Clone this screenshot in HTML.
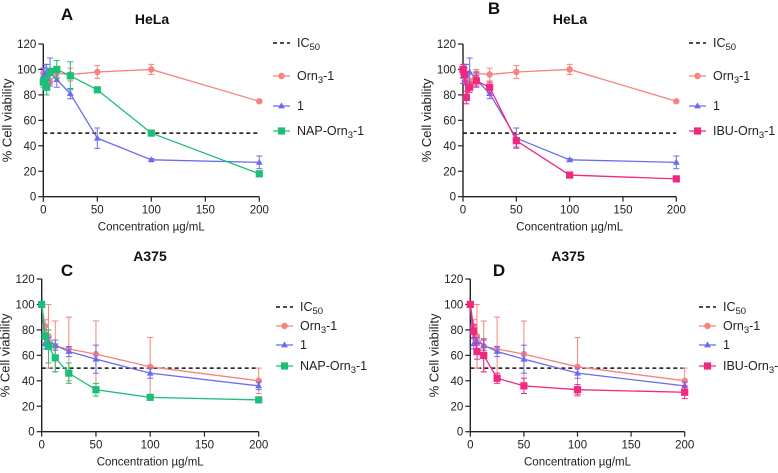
<!DOCTYPE html>
<html><head><meta charset="utf-8"><style>
body{margin:0;background:#fff;}
svg{display:block;font-family:"Liberation Sans",Arial,sans-serif;}
</style></head><body>
<svg id="fig" width="778" height="473" viewBox="0 0 778 473"></svg>
<script>
const concsHeLa=[0,1.56,3.125,6.25,12.5,25,50,100,200];
const concsA375=[0,3.125,6.25,12.5,25,50,100,200];
const ornHeLa=[97,95,92,90,97,96,98,100,75];
const ornHeLaErr=[4,4,4,3,3,5,5,4,1];
const oneHeLa=[95,97,96,98,92,81,46,29,27];
const oneHeLaErr=[6,7,8,11,6,4,8,1,5];
const napHeLa=[90,91,86,98,100,95,84,50,18];
const napHeLaErr=[4,4,6,3,7,11,1,2,1];
const ibuHeLa=[100,96,78,86,91,86,44,17,14];
const ibuHeLaErr=[4,5,5,4,4,4,5,1,1];
const ornA375=[100,83,75,67,65,61,51,40];
const ornA375Err=[1,5,25,20,25,26,23,10];
const oneA375=[100,69,71,68,63,57,46,36];
const oneA375Err=[1,4,3,4,4,11,4,3];
const napA375=[100,75,67,58,46,33,27,25];
const napA375Err=[1,5,13,11,8,5,1,1];
const ibuA375=[100,79,63,60,42,36,33,31];
const ibuA375Err=[1,5,6,13,4,6,4,5];
const xTicks=[0,50,100,150,200];
const yTicks=[0,20,40,60,80,100,120];

const C={orn:'#f7837f',one:'#6b6bf2',nap:'#1dbf78',ibu:'#f0287f'};
const NS='http://www.w3.org/2000/svg';
const svg=document.getElementById('fig');
function el(tag,attrs,parent,text){const e=document.createElementNS(NS,tag);for(const k in attrs)e.setAttribute(k,attrs[k]);if(text!==undefined)e.textContent=text;(parent||svg).appendChild(e);return e;}

function marker(g,type,x,y,color){
  let m;
  if(type==='circle')m=el('circle',{cx:x,cy:y,r:3.2,fill:color},g);
  else if(type==='tri')m=el('polygon',{points:`${x},${y-3.6} ${x-3.4},${y+2.4} ${x+3.4},${y+2.4}`,fill:color},g);
  else m=el('rect',{x:x-3.6,y:y-3.6,width:7.2,height:7.2,fill:color},g);
  
  
}

function panel(cfg){
  const g=el('g',{});
  
  
  const X=v=>cfg.x0+(cfg.x1-cfg.x0)*v/200;
  const Y=v=>cfg.y0+(cfg.y1-cfg.y0)*v/120;
  let a=el('line',{x1:cfg.x0,y1:cfg.y0+0.5,x2:cfg.x0,y2:cfg.y1,stroke:'#222','stroke-width':1.4},g);
  
  a=el('line',{x1:cfg.x0,y1:cfg.y0,x2:cfg.x1,y2:cfg.y0,stroke:'#222','stroke-width':1.4},g);
  
  yTicks.forEach(t=>{
    el('line',{x1:cfg.x0-5,y1:Y(t),x2:cfg.x0,y2:Y(t),stroke:'#222','stroke-width':1.2},g);
    const tl=el('text',{x:cfg.x0-7,y:Y(t)+4,'font-size':11.5,'text-anchor':'end',fill:'#222'},g,String(t));
    
  });
  xTicks.forEach(t=>{
    el('line',{x1:X(t),y1:cfg.y0,x2:X(t),y2:cfg.y0+5,stroke:'#222','stroke-width':1.2},g);
    const tl=el('text',{x:X(t),y:cfg.y0+17,'font-size':11.5,'text-anchor':'middle',fill:'#222'},g,String(t));
    
  });
  let t=el('text',{x:(cfg.x0+cfg.x1)/2,y:cfg.y0+34,'font-size':11.5,'text-anchor':'middle',fill:'#222'},g,'Concentration µg/mL');
  
  const cy=(cfg.y0+cfg.y1)/2;
  t=el('text',{x:cfg.x0-32,y:cy,'font-size':13,'text-anchor':'middle',fill:'#222',transform:`rotate(-90 ${cfg.x0-32} ${cy})`},g,'% Cell viability');
  
  t=el('text',{x:cfg.tx,y:cfg.ty,'font-size':14,'font-weight':'bold','text-anchor':'middle',fill:'#111'},g,cfg.title);
  
  t=el('text',{x:cfg.lx,y:cfg.ly,'font-size':17,'font-weight':'bold','text-anchor':'middle',fill:'#111'},g,cfg.letter);
  
  const ic=el('line',{x1:cfg.x0,y1:Y(50),x2:cfg.x1,y2:Y(50),stroke:'#111','stroke-width':1.5,'stroke-dasharray':'4,3'},g);
  
  cfg.series.forEach(s=>{
    const sg=el('g',{},g);
    
    
    const pts=s.vals.map((v,i)=>X(cfg.concs[i])+','+Y(v)).join(' ');
    el('polyline',{points:pts,fill:'none',stroke:s.color,'stroke-width':1.3},sg);
    s.vals.forEach((v,i)=>{
      const x=X(cfg.concs[i]),e=s.err[i];
      el('line',{x1:x,y1:Y(v+e),x2:x,y2:Y(v-e),stroke:s.color,'stroke-width':1},sg);
      el('line',{x1:x-3,y1:Y(v+e),x2:x+3,y2:Y(v+e),stroke:s.color,'stroke-width':1},sg);
      el('line',{x1:x-3,y1:Y(v-e),x2:x+3,y2:Y(v-e),stroke:s.color,'stroke-width':1},sg);
      marker(sg,s.m,x,Y(v),s.color);
    });
  });
  const lg=el('g',{},g);
  
  const e0=el('g',{},lg);
  el('line',{x1:cfg.legX,y1:cfg.legY[0],x2:cfg.legX+17,y2:cfg.legY[0],stroke:'#111','stroke-width':1.5,'stroke-dasharray':'4,3'},e0);
  const it=el('text',{x:cfg.legX+24,y:cfg.legY[0]+4,'font-size':12.5,fill:'#222'},e0);
  el('tspan',{},it,'IC');el('tspan',{dy:3,'font-size':9.5},it,'50');
  cfg.series.forEach((s,k)=>{
    const eg=el('g',{},lg);
    
    
    const y=cfg.legY[k+1];
    el('line',{x1:cfg.legX,y1:y,x2:cfg.legX+17,y2:y,stroke:s.color,'stroke-width':1.3},eg);
    marker(eg,s.m,cfg.legX+8.5,y,s.color);
    const tx=el('text',{x:cfg.legX+24,y:y+4,'font-size':12.5,fill:'#222'},eg);
    s.label.forEach(p=>{ if(p.sub) el('tspan',{dy:3,'font-size':9.5},tx,p.t); else el('tspan',p.after?{dy:-3}:{},tx,p.t); });
  });
}
const ornL=[{t:'Orn'},{t:'3',sub:1},{t:'-1',after:1}];
const oneL=[{t:'1'}];
const napL=[{t:'NAP-Orn'},{t:'3',sub:1},{t:'-1',after:1}];
const ibuL=[{t:'IBU-Orn'},{t:'3',sub:1},{t:'-1',after:1}];

panel({letter:'A',title:'HeLa',x0:43.3,x1:259.3,y0:196.7,y1:44,tx:152,ty:24,lx:67,ly:20,concs:concsHeLa,legX:273,legY:[43,76,106,131],
  series:[{name:'orn3-1',color:C.orn,m:'circle',vals:ornHeLa,err:ornHeLaErr,label:ornL},
          {name:'1',color:C.one,m:'tri',vals:oneHeLa,err:oneHeLaErr,label:oneL},
          {name:'nap-orn3-1',color:C.nap,m:'sq',vals:napHeLa,err:napHeLaErr,label:napL}]});
panel({letter:'B',title:'HeLa',x0:463,x1:676.3,y0:196.7,y1:44,tx:570,ty:24,lx:494,ly:14,concs:concsHeLa,legX:689,legY:[43,76,106,131],
  series:[{name:'orn3-1',color:C.orn,m:'circle',vals:ornHeLa,err:ornHeLaErr,label:ornL},
          {name:'1',color:C.one,m:'tri',vals:oneHeLa,err:oneHeLaErr,label:oneL},
          {name:'ibu-orn3-1',color:C.ibu,m:'sq',vals:ibuHeLa,err:ibuHeLaErr,label:ibuL}]});
panel({letter:'C',title:'A375',x0:41.7,x1:258.7,y0:431.7,y1:279,tx:150,ty:261,lx:67,ly:276,concs:concsA375,legX:276,legY:[307,326,345,366],
  series:[{name:'orn3-1',color:C.orn,m:'circle',vals:ornA375,err:ornA375Err,label:ornL},
          {name:'1',color:C.one,m:'tri',vals:oneA375,err:oneA375Err,label:oneL},
          {name:'nap-orn3-1',color:C.nap,m:'sq',vals:napA375,err:napA375Err,label:napL}]});
panel({letter:'D',title:'A375',x0:470.3,x1:684.7,y0:431.7,y1:279,tx:568,ty:261,lx:499,ly:276,concs:concsA375,legX:699,legY:[307,326,345,366],
  series:[{name:'orn3-1',color:C.orn,m:'circle',vals:ornA375,err:ornA375Err,label:ornL},
          {name:'1',color:C.one,m:'tri',vals:oneA375,err:oneA375Err,label:oneL},
          {name:'ibu-orn3-1',color:C.ibu,m:'sq',vals:ibuA375,err:ibuA375Err,label:ibuL}]});
</script>
</body></html>
